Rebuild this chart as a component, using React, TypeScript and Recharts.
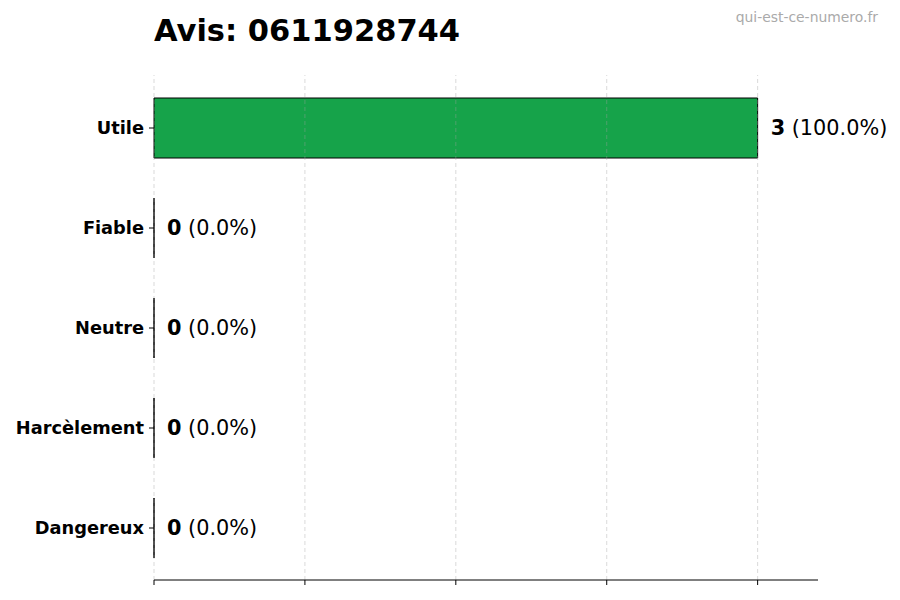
import { BarChart, Bar, XAxis, YAxis, ReferenceLine, LabelList } from 'recharts'

const categories = ['Utile', 'Fiable', 'Neutre', 'Harcèlement', 'Dangereux']
const counts = [3, 0, 0, 0, 0]
const xTicks = [0, 0.75, 1.5, 2.25, 3]

const total = counts.reduce((a, b) => a + b, 0)
const data = categories.map((name, i) => ({
  name,
  value: counts[i],
  pct: total ? (counts[i] / total) * 100 : 0,
}))

const FONT = '"DejaVu Sans", sans-serif'

// bars with zero width still get their black outline, like the original
const OutlinedBar = (props: any) => {
  const { x, y, width, height, fill } = props
  const d = `M${x},${y}h${width}v${height}h${-width}Z`
  return <path d={d} fill={fill} stroke="#000" strokeWidth={1} />
}

const ValueLabel = (props: any) => {
  const { x, y, width, height, index } = props
  const row = data[index]
  return (
    <text
      x={x + width + 13}
      y={y + height / 2}
      dominantBaseline="central"
      fontFamily={FONT}
      fontSize={20.8}
      fill="#000"
    >
      <tspan fontWeight="bold">{row.value}</tspan>
      <tspan> ({row.pct.toFixed(1)}%)</tspan>
    </text>
  )
}

// x ticks keep their marks but show no numbers
const NoLabel = () => <g />

export default function App() {
  return (
    <div style={{ position: 'absolute', left: 0, top: 0, width: 900, height: 600, background: '#fff' }}>
      <div
        style={{
          position: 'absolute',
          left: 154,
          top: 13,
          fontFamily: FONT,
          fontWeight: 'bold',
          fontSize: 30.5,
          lineHeight: '36px',
          color: '#000',
        }}
      >
        Avis: 0611928744
      </div>
      <div
        style={{
          position: 'absolute',
          right: 22,
          top: 9,
          fontFamily: FONT,
          fontSize: 13.9,
          lineHeight: '17px',
          color: '#aaaaaa',
        }}
      >
        qui-est-ce-numero.fr
      </div>
      <BarChart
        width={900}
        height={600}
        data={data}
        layout="vertical"
        margin={{ top: 75, right: 82, bottom: 0, left: 0 }}
      >
        <XAxis
          type="number"
          domain={[0, 3.3]}
          ticks={xTicks}
          interval={0}
          tick={NoLabel}
          height={20}
          axisLine={{ stroke: '#000' }}
          tickLine={{ stroke: '#000' }}
          tickSize={5}
        />
        <YAxis
          type="category"
          dataKey="name"
          width={154}
          axisLine={false}
          tickLine={{ stroke: '#000' }}
          tickSize={5}
          tickMargin={5}
          padding={{ top: 3, bottom: 2 }}
          tick={{ fontFamily: FONT, fontWeight: 'bold', fontSize: 17.8, fill: '#000' }}
        />
        {xTicks.map((t) => (
          <ReferenceLine
            key={t}
            x={t}
            stroke="#a0a0a0"
            strokeOpacity={0.4}
            strokeDasharray="4 3"
          />
        ))}
        <Bar
          dataKey="value"
          fill="#16a34a"
          barSize={60}
          shape={OutlinedBar}
          isAnimationActive={false}
        >
          <LabelList dataKey="value" content={ValueLabel} />
        </Bar>
      </BarChart>
    </div>
  )
}
